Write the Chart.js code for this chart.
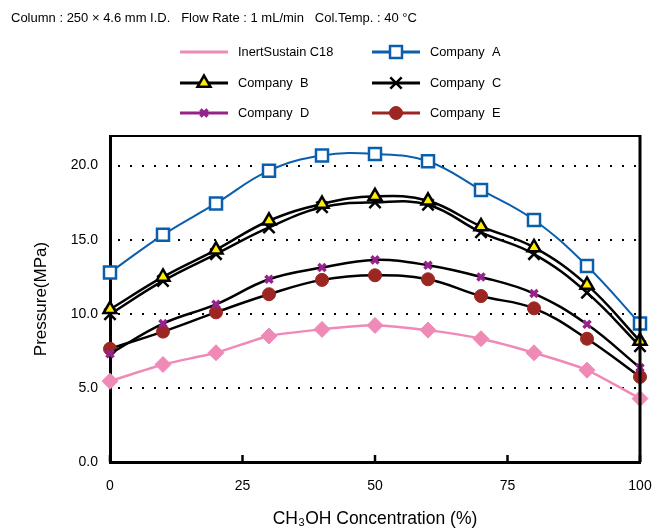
<!DOCTYPE html>
<html>
<head>
<meta charset="utf-8">
<script src="https://cdn.jsdelivr.net/npm/chart.js@4.4.0/dist/chart.umd.min.js"></script>
<style>
  body { margin: 0; background: #fff; }
  canvas { display: block; }
</style>
</head>
<body>
<canvas id="pressureChart" width="659" height="528"></canvas>
<script>
// Données
var concentration = [0, 10, 20, 30, 40, 50, 60, 70, 80, 90, 100];
var inertSustain = [5.45, 6.58, 7.37, 8.5, 8.95, 9.22, 8.9, 8.32, 7.37, 6.2, 4.28];
var companyA = [12.79, 15.33, 17.45, 19.66, 20.68, 20.79, 20.3, 18.36, 16.33, 13.23, 9.34];
var companyB = [10.3, 12.49, 14.32, 16.28, 17.41, 17.93, 17.63, 15.9, 14.48, 11.95, 8.16];
var companyC = [9.97, 12.22, 14.03, 15.83, 17.19, 17.52, 17.36, 15.5, 14.03, 11.43, 7.82];
var companyD = [7.3, 9.34, 10.64, 12.33, 13.12, 13.64, 13.28, 12.49, 11.37, 9.29, 6.36];
var companyE = [7.64, 8.8, 10.1, 11.32, 12.29, 12.6, 12.33, 11.2, 10.37, 8.32, 5.75];
var yTicks = [0, 5, 10, 15, 20];
var xTicks = [0, 25, 50, 75, 100];
var headerText = 'Column : 250 \u00d7 4.6 mm I.D.   Flow Rate : 1 mL/min   Col.Temp. : 40 \u00b0C';

Chart.defaults.font.family = "'Liberation Sans', Arial, sans-serif";
Chart.defaults.color = '#000';

function toPoints(values) {
    return values.map(function (v, i) {
        return { x: concentration[i], y: v };
    });
}

var FONT = "'Liberation Sans', Arial, sans-serif";

// Légende + en-tête + cadre dessinés à la main
var decorPlugin = {
    id: 'decor',
    afterDraw: function (chart) {
        var ctx = chart.ctx;
        var area = chart.chartArea;
        var xScale = chart.scales.x;
        ctx.save();

        // cadre haut et droit
        ctx.strokeStyle = '#000';
        ctx.lineWidth = 2;
        ctx.beginPath();
        ctx.moveTo(area.left, area.top);
        ctx.lineTo(area.right, area.top);
        ctx.stroke();
        ctx.lineWidth = 3;
        ctx.beginPath();
        ctx.moveTo(area.right, area.top - 1);
        ctx.lineTo(area.right, area.bottom);
        ctx.stroke();

        // petites graduations vers l'intérieur
        ctx.lineWidth = 2.5;
        xTicks.forEach(function (t) {
            var px = xScale.getPixelForValue(t);
            ctx.beginPath();
            ctx.moveTo(px, area.bottom);
            ctx.lineTo(px, area.bottom - 7);
            ctx.stroke();
        });

        // en-tête
        ctx.fillStyle = '#000';
        ctx.font = '13px ' + FONT;
        ctx.textBaseline = 'middle';
        ctx.textAlign = 'left';
        ctx.fillText(headerText, 11, 18);

        // légende sur 2 colonnes
        var cols = [180, 372];
        var rows = [52, 83, 113];
        chart.data.datasets.forEach(function (ds, i) {
            var x0 = cols[i % 2];
            var y0 = rows[Math.floor(i / 2)];
            ctx.strokeStyle = ds.legendColor;
            ctx.lineWidth = 3;
            ctx.beginPath();
            ctx.moveTo(x0, y0);
            ctx.lineTo(x0 + 48, y0);
            ctx.stroke();
            if (ds.legendMarker) {
                ctx.fillStyle = ds.pointBackgroundColor;
                ctx.strokeStyle = ds.pointBorderColor;
                ctx.lineWidth = ds.pointBorderWidth;
                Chart.helpers.drawPoint(ctx, {
                    pointStyle: ds.pointStyle,
                    radius: ds.pointRadius,
                    borderWidth: ds.pointBorderWidth,
                    rotation: 0
                }, x0 + 24, y0);
            }
            ctx.fillStyle = '#000';
            ctx.font = '12.8px ' + FONT;
            ctx.fillText(ds.label, x0 + 58, y0);
        });
        ctx.restore();
    }
};

var ctx = document.getElementById('pressureChart').getContext('2d');

var myChart = new Chart(ctx, {
    type: 'line',
    data: {
        datasets: [
            {
                label: 'InertSustain C18',
                data: toPoints(inertSustain),
                borderColor: '#ef8ab7',
                borderWidth: 2.5,
                tension: 0.2,
                clip: false,
                pointStyle: 'rectRot',
                pointRadius: 8,
                pointBackgroundColor: '#ef8ab7',
                pointBorderColor: '#ef8ab7',
                pointBorderWidth: 1,
                legendColor: '#ef8ab7',
                legendMarker: false
            },
            {
                label: 'Company  A',
                data: toPoints(companyA),
                borderColor: '#0a5fad',
                borderWidth: 2,
                tension: 0.4,
                clip: false,
                pointStyle: 'rect',
                pointRadius: 8.5,
                pointBackgroundColor: '#fff',
                pointBorderColor: '#0a5fad',
                pointBorderWidth: 2.5,
                legendColor: '#0a5fad',
                legendMarker: true
            },
            {
                label: 'Company  B',
                data: toPoints(companyB),
                borderColor: '#000',
                borderWidth: 2.5,
                tension: 0.4,
                clip: false,
                pointStyle: 'triangle',
                pointRadius: 7.5,
                pointBackgroundColor: '#ffec00',
                pointBorderColor: '#000',
                pointBorderWidth: 2.5,
                legendColor: '#000',
                legendMarker: true
            },
            {
                label: 'Company  C',
                data: toPoints(companyC),
                borderColor: '#000',
                borderWidth: 2.5,
                tension: 0.4,
                clip: false,
                pointStyle: 'crossRot',
                pointRadius: 8,
                pointBackgroundColor: '#000',
                pointBorderColor: '#000',
                pointBorderWidth: 2.5,
                legendColor: '#000',
                legendMarker: true
            },
            {
                label: 'Company  D',
                data: toPoints(companyD),
                borderColor: '#000',
                borderWidth: 2.5,
                tension: 0.4,
                clip: false,
                pointStyle: 'crossRot',
                pointRadius: 5,
                pointBackgroundColor: '#96228c',
                pointBorderColor: '#96228c',
                pointBorderWidth: 3.5,
                legendColor: '#96228c',
                legendMarker: true
            },
            {
                label: 'Company  E',
                data: toPoints(companyE),
                borderColor: '#000',
                borderWidth: 2.5,
                tension: 0.4,
                clip: false,
                pointStyle: 'circle',
                pointRadius: 6.5,
                pointBackgroundColor: '#9c2622',
                pointBorderColor: '#9c2622',
                pointBorderWidth: 1,
                legendColor: '#9c2622',
                legendMarker: true
            }
        ]
    },
    options: {
        responsive: false,
        animation: false,
        layout: { padding: { top: 136, right: 19, left: 0, bottom: 0 } },
        plugins: {
            legend: { display: false },
            tooltip: { enabled: false }
        },
        scales: {
            x: {
                type: 'linear',
                min: 0,
                max: 100,
                afterBuildTicks: function (scale) {
                    scale.ticks = xTicks.map(function (v) { return { value: v }; });
                },
                afterFit: function (scale) {
                    scale.height = 66;
                    scale.paddingLeft = 0;
                    scale.paddingRight = 0;
                },
                grid: { display: false, drawTicks: false },
                border: { color: '#000', width: 3 },
                ticks: { font: { size: 14 }, padding: 16, maxRotation: 0 },
                title: {
                    display: true,
                    text: 'CH\u2083OH Concentration (%)',
                    font: { size: 17.5, lineHeight: 1 },
                    padding: { top: 0, bottom: 0 }
                }
            },
            y: {
                min: 0,
                max: 22,
                afterBuildTicks: function (scale) {
                    scale.ticks = yTicks.map(function (v) { return { value: v }; });
                },
                afterFit: function (scale) {
                    scale.width = 110;
                    scale.paddingTop = 0;
                    scale.paddingBottom = 0;
                },
                grid: { color: '#000', lineWidth: 2, drawTicks: false },
                border: { color: '#000', width: 3, dash: [2, 10], dashOffset: -6 },
                ticks: {
                    font: { size: 14 },
                    padding: 12,
                    callback: function (v) { return v.toFixed(1); }
                },
                title: {
                    display: true,
                    text: 'Pressure(MPa)',
                    font: { size: 17, lineHeight: 1 },
                    padding: { top: 33 }
                }
            }
        }
    },
    plugins: [decorPlugin]
});
</script>
</body>
</html>
